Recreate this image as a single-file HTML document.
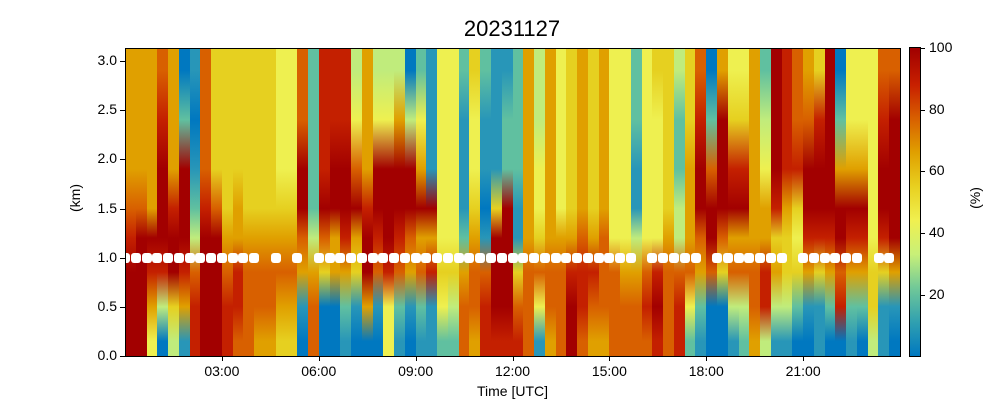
<!DOCTYPE html>
<html><head><meta charset="utf-8"><style>
body{margin:0;background:#fff;width:1000px;height:400px;overflow:hidden;font-family:"Liberation Sans",sans-serif;position:relative}
.a{position:absolute}
.col{position:absolute;top:48px;height:308px}
.t{position:absolute;font-size:14px;color:#000}
.dot{position:absolute;width:10px;height:10px;border-radius:3px;background:#fff;top:253px}
</style></head><body>
<div class="a" style="left:0;top:16px;width:1024px;text-align:center;font-size:22px">20231127</div>
<div id="plot"></div>
<div class="a" style="left:125px;top:48px;width:774px;height:307px;border:1px solid #000"></div>
<div class="a" style="left:910px;top:48px;width:10px;height:308px;background:linear-gradient(to top,#0078c0 0%,#30a0b0 11%,#70c898 22%,#c8f078 33%,#f0f050 44%,#e8d020 55%,#e0a000 66%,#d86000 77%,#c82000 88%,#a00000 100%);outline:1px solid #000"></div>
<div class="a" style="left:30px;top:190px;width:90px;text-align:center;transform:rotate(-90deg);font-size:14px">(km)</div>
<div class="a" style="left:930px;top:190px;width:90px;text-align:center;transform:rotate(-90deg);font-size:14px">(%)</div>
<div class="a" style="left:125px;top:383px;width:775px;text-align:center;font-size:14px">Time [UTC]</div>
<div id="ax"></div>
<script>
var d=["66678999","66679999","66669864","78999830","66689953","02999861","10123788","77789999","55579999","55556788","55566887","55556777","55556776","55556776","44456765","44456765","77997610","22223677","88897500","88996600","88998621","34796510","66689960","34998710","34999844","36998721","03997610","24696721","11196811","44444542","44444532","21112677","54456776","21101788","11159998","12299998",
"22211578","66666777","33445741","66666776","44446777","55556899","66667887","55556876","66667776","44444777","44444677","22113677","44444787","54444898","55556777","32233788","55666742","78997621","02799700","69997500","45896731","45896732","66666776","23466883","99985631","88865531","77854520","67998610","58998511","99998620","02699780","44698621","44698620","44444553","78998511","79999610"];
var c=["#0078c0","#2896b8","#60c0a0","#c0ec7c","#eef050","#e6d020","#e0a000","#d86000","#c42000","#a20000"];
var pos=[7.3,23.3,39.3,52.1,61.7,72.8,84,95.2];
var h="",w=775/72;
for(var i=0;i<72;i++){var s=[];for(var k=0;k<8;k++)s.push(c[+d[i][k]]+" "+pos[k]+"%");
h+='<div class="col" style="left:'+(125+i*w).toFixed(2)+'px;width:'+(w+0.6).toFixed(2)+'px;background:linear-gradient(to bottom,'+c[+d[i][0]]+' 0%,'+s.join(",")+','+c[+d[i][7]]+' 100%)"></div>';}
var skip={13:1,15:1,17:1,48:1,54:1,62:1,69:1};
for(var i=0;i<72;i++){if(skip[i])continue;h+='<div class="dot" style="left:'+(125+i*w-5).toFixed(1)+'px"></div>';}
document.getElementById("plot").innerHTML=h;
var a="";
for(var v=0;v<=6;v++){var y=356-v*0.5*98.3;a+='<div class="a" style="left:120px;top:'+y+'px;width:5px;height:1px;background:#000"></div><div class="t" style="left:80px;top:'+(y-9)+'px;width:37px;text-align:right">'+(v*0.5).toFixed(1)+'</div>';}
for(var t=3;t<=21;t+=3){var x=125+t*775/24;a+='<div class="a" style="left:'+x+'px;top:356px;width:1px;height:5px;background:#000"></div><div class="t" style="left:'+(x-30)+'px;top:363px;width:60px;text-align:center">'+(t<10?"0":"")+t+':00</div>';}
for(var p=20;p<=100;p+=20){var y=356.7-p*3.087;a+='<div class="a" style="left:920px;top:'+y+'px;width:5px;height:1px;background:#000"></div><div class="t" style="left:929px;top:'+(y-9)+'px">'+p+'</div>';}
document.getElementById("ax").innerHTML=a;
</script>
</body></html>
